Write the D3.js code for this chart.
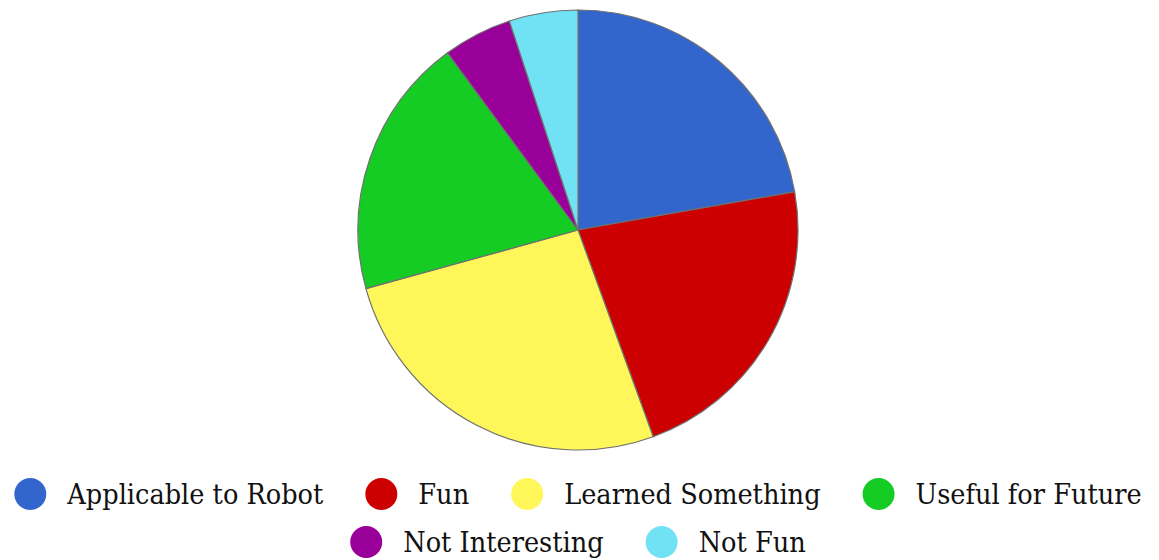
<!DOCTYPE html>
<html>
<head>
<meta charset="utf-8">
<script src="https://cdn.jsdelivr.net/npm/d3@7"></script>
<style>
  body { margin: 0; background: #fff; }
  text { font-family: "DejaVu Serif Condensed", "DejaVu Serif", serif; }
</style>
</head>
<body>
<div id="chart"></div>
<script>
// responses (percent of answers)
var categories = ["Applicable to Robot", "Fun", "Learned Something", "Useful for Future", "Not Interesting", "Not Fun"];
var values = [22, 22, 26, 19, 5, 5];
var colors = ["#3366cc", "#cc0000", "#fff659", "#14cc24", "#990099", "#70e2f4"];
var legendRows = [[0, 1, 2, 3], [4, 5]];

var W = 1159, H = 560;
var cx = 578, cy = 230, R = 220;

var svg = d3.select("#chart").append("svg")
    .attr("width", W)
    .attr("height", H);

var pie = d3.pie().sort(null).value(function(d) { return d; });
var arc = d3.arc().innerRadius(0).outerRadius(R);

var g = svg.append("g").attr("transform", "translate(" + cx + "," + cy + ")");
g.selectAll("path")
    .data(pie(values))
    .enter().append("path")
    .attr("d", arc)
    .attr("fill", function(d, i) { return colors[i]; })
    .attr("stroke", "#707070")
    .attr("stroke-width", 1.2);

// legend, each row centred under the pie
var dotR = 16, dotGap = 21, itemGap = 42;
var rowY = [494, 542];
var fontSize = 28.5;

legendRows.forEach(function(row, r) {
    var lg = svg.append("g");
    var x = 0;
    row.forEach(function(k, j) {
        var item = lg.append("g").attr("transform", "translate(" + x + ",0)");
        item.append("circle")
            .attr("cx", dotR)
            .attr("cy", 0)
            .attr("r", dotR)
            .attr("fill", colors[k]);
        var t = item.append("text")
            .attr("x", dotR * 2 + dotGap)
            .attr("y", 0)
            .attr("dy", "0.36em")
            .attr("font-size", fontSize)
            .attr("fill", "#111")
            .text(categories[k]);
        x += dotR * 2 + dotGap + t.node().getComputedTextLength() + itemGap;
    });
    var total = x - itemGap;
    lg.attr("transform", "translate(" + (cx - total / 2) + "," + rowY[r] + ")");
});
</script>
</body>
</html>
